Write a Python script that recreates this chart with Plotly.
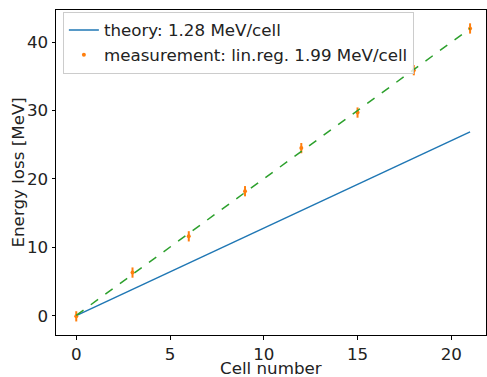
import numpy as np
import plotly.graph_objects as go

cells = [0, 3, 6, 9, 12, 15, 18, 21]
energy = [-0.1, 6.3, 11.6, 18.2, 24.5, 29.7, 35.9, 42.0]
energy_err = [0.75, 0.75, 0.75, 0.75, 0.75, 0.75, 0.75, 0.75]
theory_slope = 1.28
theory_x = [0, 21]

slope, intercept = np.polyfit(cells, energy, 1)
fit_x = [cells[0], cells[-1]]
fit_y = [slope * x + intercept for x in fit_x]
theory_y = [theory_slope * x for x in theory_x]

FS = 16.7
fig = go.Figure()
fig.add_trace(go.Scatter(x=theory_x, y=theory_y, mode="lines",
                         line=dict(color="#1f77b4", width=1.5),
                         name="theory: 1.28 MeV/cell"))
fig.add_trace(go.Scatter(x=cells, y=energy, mode="markers",
                         marker=dict(color="#ff7f0e", size=4),
                         error_y=dict(type="data", array=energy_err, color="#ff7f0e",
                                      thickness=2, width=0),
                         name="measurement: lin.reg. 1.99 MeV/cell"))
fig.add_trace(go.Scatter(x=fit_x, y=fit_y, mode="lines",
                         line=dict(color="#2ca02c", width=1.5, dash="dash"),
                         showlegend=False))

axis_common = dict(showline=True, linecolor="black", linewidth=1, mirror=True,
                   ticks="outside", ticklen=3.5, tickcolor="black", showgrid=False,
                   zeroline=False, tickfont=dict(size=FS, color="#222"))
fig.update_layout(
    width=487, height=377,
    margin=dict(l=56, r=1, t=10, b=42, autoexpand=False),
    plot_bgcolor="white", paper_bgcolor="white",
    font=dict(family="DejaVu Sans", size=FS, color="#222"),
    xaxis=dict(range=[-1.08, 21.85], tickvals=[0, 5, 10, 15, 20], **axis_common),
    yaxis=dict(range=[-2.83, 44.7], tickvals=[0, 10, 20, 30, 40], **axis_common),
    legend=dict(x=0.016, y=0.995, xanchor="left", yanchor="top",
                bgcolor="rgba(255,255,255,0.8)", bordercolor="#cccccc", borderwidth=1,
                font=dict(size=FS), tracegroupgap=0),
    showlegend=True,
    annotations=[
        dict(text="Cell number", xref="paper", yref="paper", x=0.5, y=0,
             xanchor="center", yanchor="middle", yshift=-33, showarrow=False,
             font=dict(size=FS, color="#222")),
        dict(text="Energy loss [MeV]", xref="paper", yref="paper", x=0, y=0.5,
             xanchor="center", yanchor="middle", xshift=-39, textangle=-90,
             showarrow=False, font=dict(size=FS, color="#222")),
    ],
)
fig.write_html("out.html")
